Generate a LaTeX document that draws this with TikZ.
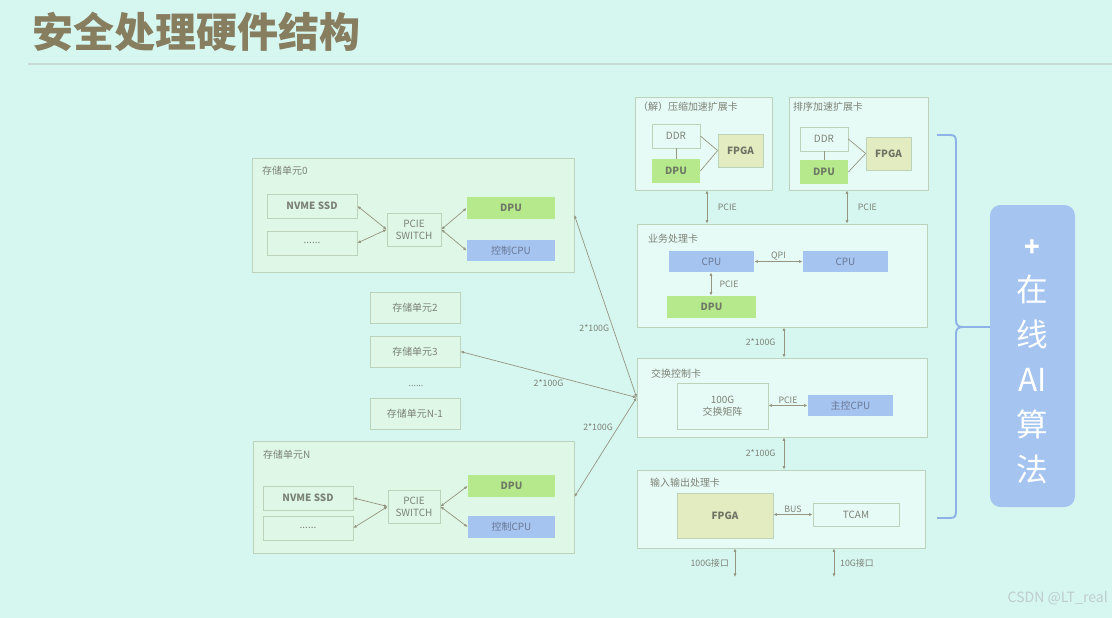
\documentclass[tikz,border=0pt]{standalone}
\usepackage{fontspec}
\setmainfont{Noto Sans CJK SC}
\usetikzlibrary{arrows.meta,calc}
\definecolor{bgc}{RGB}{214,246,240}
\definecolor{titlec}{RGB}{135,125,95}
\definecolor{bordc}{RGB}{188,210,186}
\definecolor{txtc}{RGB}{125,130,118}
\definecolor{unitfill}{RGB}{222,247,230}
\definecolor{greenc}{RGB}{182,232,140}
\definecolor{bluec}{RGB}{166,196,240}
\definecolor{fpgac}{RGB}{226,236,192}
\definecolor{arrc}{RGB}{150,150,128}
\definecolor{bracec}{RGB}{140,178,232}
\definecolor{aic}{RGB}{165,196,240}
\newcommand\bx[7]{\node[#6, minimum width={(#4-#2)*0.03cm}, minimum height={(#5-#3)*0.03cm}] (#1) at ({(#2+#4)/2},{(#3+#5)/2}) {#7};}
\begin{document}
\begin{tikzpicture}[x=0.03cm,y=-0.03cm,
  box/.style={draw=bordc, line width=0.6pt, inner sep=0pt, text=txtc, font=\fontsize{8.5}{10}\selectfont, align=center},
  unitbox/.style={box, fill=unitfill},
  cardbox/.style={draw=bordc, line width=0.6pt, inner sep=0pt, fill=bgc!60!white},
  dpubox/.style={box, draw=none, fill=greenc, text={rgb,255:red,110;green,122;blue,100}, font=\fontsize{8.5}{10}\selectfont\bfseries},
  cpubox/.style={box, draw=none, fill=bluec, text={rgb,255:red,105;green,120;blue,150}},
  fpgabox/.style={box, fill=fpgac, text={rgb,255:red,110;green,115;blue,100}, font=\fontsize{8.5}{10}\selectfont\bfseries},
  biarr/.style={draw=arrc, line width=0.6pt, {Latex[length=3pt,width=2.6pt]}-{Latex[length=3pt,width=2.6pt]}},
  lbl/.style={text=txtc, font=\fontsize{7.5}{9}\selectfont, inner sep=1pt},
  cardlbl/.style={text=txtc, font=\fontsize{8.5}{10}\selectfont, anchor=west, inner sep=0pt},
]
\useasboundingbox (0,0) rectangle (1112,618);
\fill[bgc] (0,0) rectangle (1112,618);
% title
\node[anchor=west, inner sep=0pt, text=titlec, font=\fontsize{35}{36}\selectfont\bfseries] (title) at (32,32) {安全处理硬件结构};
\draw[line width=2pt, draw={rgb,255:red,200;green,218;blue,212}] (28,64) -- (1112,64);

% storage unit 0
\bx{su0}{252}{158}{574}{272}{unitbox}{}
\node[cardlbl] (su0l) at (262,171) {存储单元0};
\bx{nv0}{267}{194}{357}{218}{box}{\bfseries NVME SSD}
\bx{dt0}{267}{231}{357}{255}{box}{......}
\bx{sw0}{387}{213}{441}{246}{box}{PCIE\\SWITCH}
\bx{dp0}{467}{197}{555}{219}{dpubox}{DPU}
\bx{cp0}{467}{240}{555}{261}{cpubox}{控制CPU}
\draw[biarr] (nv0.east) -- (sw0.west);
\draw[biarr] (dt0.east) -- (sw0.west);
\draw[biarr] (sw0.east) -- (dp0.west);
\draw[biarr] (sw0.east) -- (cp0.west);

% middle units
\bx{su2}{370}{292}{460}{323}{unitbox}{存储单元2}
\bx{su3}{370}{336}{460}{367}{unitbox}{存储单元3}
\node[lbl] (dots) at (416,386) {......};
\bx{sun1}{370}{398}{460}{429}{unitbox}{存储单元N-1}

% storage unit N
\bx{suN}{253}{441}{574}{553}{unitbox}{}
\node[cardlbl] (suNl) at (263,455) {存储单元N};
\bx{nvN}{263}{486}{353}{510}{box}{\bfseries NVME SSD}
\bx{dtN}{263}{516}{353}{540}{box}{......}
\bx{swN}{388}{490}{440}{523}{box}{PCIE\\SWITCH}
\bx{dpN}{468}{475}{555}{497}{dpubox}{DPU}
\bx{cpN}{468}{516}{555}{538}{cpubox}{控制CPU}
\draw[biarr] (nvN.east) -- (swN.west);
\draw[biarr] (dtN.east) -- (swN.west);
\draw[biarr] (swN.east) -- (dpN.west);
\draw[biarr] (swN.east) -- (cpN.west);

% right cards
\bx{acc1}{635}{97}{772}{190}{cardbox}{}
\node[cardlbl] (acc1l) at (638,107) {（解）压缩加速扩展卡};
\bx{ddr1}{652}{124}{700}{148}{box}{DDR}
\bx{dpu1}{652}{159}{700}{183}{dpubox}{DPU}
\bx{fp1}{718}{134}{763}{167}{fpgabox}{FPGA}
\draw[draw=arrc, line width=0.6pt] (ddr1.south) -- (dpu1.north);
\draw[draw=arrc, line width=0.6pt] (ddr1.east) -- (fp1.west);
\draw[draw=arrc, line width=0.6pt] (dpu1.east) -- (fp1.west);

\bx{acc2}{789}{97}{928}{190}{cardbox}{}
\node[cardlbl] (acc2l) at (793,107) {排序加速扩展卡};
\bx{ddr2}{800}{127}{848}{151}{box}{DDR}
\bx{dpu2}{800}{160}{848}{184}{dpubox}{DPU}
\bx{fp2}{866}{137}{911}{170}{fpgabox}{FPGA}
\draw[draw=arrc, line width=0.6pt] (ddr2.south) -- (dpu2.north);
\draw[draw=arrc, line width=0.6pt] (ddr2.east) -- (fp2.west);
\draw[draw=arrc, line width=0.6pt] (dpu2.east) -- (fp2.west);

% business card
\bx{biz}{637}{224}{927}{327}{cardbox}{}
\node[cardlbl] (bizl) at (648,239) {业务处理卡};
\bx{cpu1}{669}{251}{754}{272}{cpubox}{CPU}
\bx{cpu2}{803}{251}{888}{272}{cpubox}{CPU}
\bx{dpu3}{667}{296}{756}{318}{dpubox}{DPU}
\coordinate (xa) at (711,0);
\draw[biarr] (cpu1.east) -- node[lbl, above] (qpi) {QPI} (cpu2.west);
\draw[biarr] (cpu1.south -| xa) -- node[lbl, right=6pt] (pcie3) {PCIE} (dpu3.north -| xa);

\coordinate (xp1) at (707,0);
\coordinate (xp2) at (847,0);
\draw[biarr] (acc1.south -| xp1) -- node[lbl, right=8pt] (pcie1) {PCIE} (biz.north -| xp1);
\draw[biarr] (acc2.south -| xp2) -- node[lbl, right=8pt] (pcie2) {PCIE} (biz.north -| xp2);

% switch control card
\bx{swc}{637}{358}{927}{437}{cardbox}{}
\node[cardlbl] (swcl) at (651,374) {交换控制卡};
\bx{mat}{677}{383}{768}{429}{box}{100G\\交换矩阵}
\bx{mcpu}{808}{395}{893}{416}{cpubox}{主控CPU}
\draw[biarr] (mat.east |- mcpu) -- node[lbl, above] (pcie4) {PCIE} (mcpu.west);

\coordinate (xm) at (784,0);
\draw[biarr] (biz.south -| xm) -- node[lbl, left=6pt] (g1) {2*100G} (swc.north -| xm);

% IO card
\bx{io}{637}{470}{925}{548}{cardbox}{}
\node[cardlbl] (iol) at (650,483) {输入输出处理卡};
\bx{fp3}{677}{493}{773}{538}{fpgabox}{FPGA}
\bx{tcam}{813}{503}{899}{526}{box}{TCAM}
\draw[biarr] (fp3.east |- tcam) -- node[lbl, above] (bus) {BUS} (tcam.west);
\draw[biarr] (swc.south -| xm) -- node[lbl, left=6pt] (g2) {2*100G} (io.north -| xm);

\coordinate (p100) at (735,577);
\coordinate (p10) at (834,577);
\draw[biarr] (io.south -| p100) -- node[lbl, left=4pt] (l100) {100G接口} (p100);
\draw[biarr] (io.south -| p10) -- node[lbl, right=4pt] (l10) {10G接口} (p10);

% storage links to hub
\draw[biarr] (su0.east) -- node[lbl, pos=0.62, left=2pt] (g3) {2*100G} (swc.west);
\draw[biarr] (su3.east) -- node[lbl, pos=0.5, below=3pt] (g4) {2*100G} (swc.west);
\draw[biarr] (suN.east) -- node[lbl, pos=0.7, left=3pt] (g5) {2*100G} (swc.west);

% brace and AI box
\node[draw=none, fill=aic, rounded corners=9pt, minimum width={85*0.03cm}, minimum height={302*0.03cm}, inner sep=0pt] (ai) at (1032.5,356) {};
\node[inner sep=0pt, text=white, align=center, font=\fontsize{27}{38.5}\selectfont] (aitext) at (1032.5,362) {{\bfseries\fontsize{22}{26}\selectfont +}\\在\\线\\AI\\算\\法};
\coordinate (tip) at (963,327);
\draw[draw=bracec, line width=1.6pt] (937,135) -- (950,135) .. controls (955,135) and (956,137) .. (956,142) -- (956,320) .. controls (956,325) and (958,327) .. (tip) .. controls (958,327) and (956,329) .. (956,334) -- (956,511) .. controls (956,516) and (955,518) .. (950,518) -- (937,518);
\draw[draw=bracec, line width=1.6pt] (tip) -- (ai.west |- tip);

% watermark
\node[anchor=east, inner sep=0pt, text={rgb,255:red,190;green,205;blue,205}, font=\fontsize{12}{14}\selectfont] (wm) at (1108,598) {CSDN @LT\_real};
\end{tikzpicture}
\end{document}
